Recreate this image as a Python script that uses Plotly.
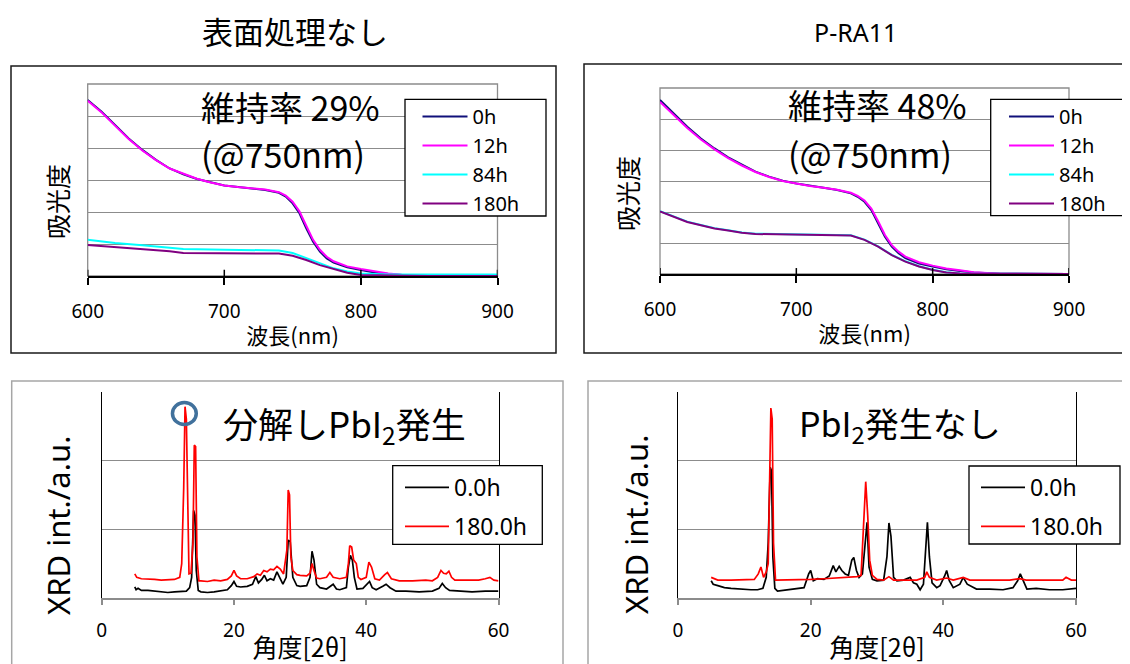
import plotly.graph_objects as go

# ---------------- data: absorbance (top panels) ----------------
wl_main = [600, 610, 620, 630, 640, 650, 660, 670, 680, 690, 700, 710, 720, 730, 740,
           745, 750, 755, 760, 765, 770, 775, 780, 790, 800, 810, 820, 830, 850, 900]
untreated_0h = [5.50, 5.14, 4.72, 4.30, 3.94, 3.63, 3.36, 3.18, 3.03, 2.92, 2.83, 2.78, 2.74, 2.69, 2.60,
                2.48, 2.27, 1.96, 1.49, 1.07, 0.76, 0.55, 0.42, 0.27, 0.19, 0.11, 0.06, 0.03, 0.00, 0.00]
untreated_12h = [5.48, 5.12, 4.70, 4.28, 3.92, 3.62, 3.36, 3.19, 3.04, 2.92, 2.83, 2.78, 2.74, 2.70, 2.62,
                 2.51, 2.32, 2.02, 1.57, 1.13, 0.82, 0.60, 0.46, 0.30, 0.22, 0.14, 0.08, 0.04, 0.00, 0.00]

wl_deg_a = [600, 610, 620, 640, 650, 660, 670, 700, 720, 740, 750, 760, 770, 780, 790, 800, 820, 850, 900]
untreated_84h = [1.13, 1.08, 1.03, 0.96, 0.92, 0.88, 0.84, 0.82, 0.81, 0.80, 0.72, 0.56, 0.38, 0.24, 0.14,
                 0.08, 0.05, 0.05, 0.05]
untreated_180h = [0.97, 0.94, 0.90, 0.83, 0.80, 0.77, 0.72, 0.71, 0.71, 0.70, 0.63, 0.50, 0.34, 0.21, 0.10,
                  0.03, 0.01, 0.00, 0.00]

pra11_0h = [5.61, 5.18, 4.75, 4.37, 4.05, 3.76, 3.52, 3.30, 3.14, 3.01, 2.92, 2.84, 2.78, 2.71, 2.60,
            2.49, 2.33, 2.06, 1.63, 1.20, 0.88, 0.67, 0.51, 0.34, 0.24, 0.15, 0.10, 0.05, 0.01, 0.00]
pra11_12h = [5.55, 5.13, 4.71, 4.34, 4.02, 3.74, 3.50, 3.29, 3.13, 3.00, 2.91, 2.84, 2.78, 2.72, 2.62,
             2.52, 2.37, 2.11, 1.70, 1.26, 0.93, 0.72, 0.56, 0.38, 0.27, 0.18, 0.12, 0.06, 0.01, 0.00]

wl_deg_b = [600, 610, 620, 630, 640, 650, 660, 670, 700, 730, 740, 750, 760, 770, 780, 790, 800, 810, 820, 900]
pra11_84h = [2.03, 1.85, 1.69, 1.58, 1.48, 1.41, 1.34, 1.30, 1.28, 1.28, 1.25, 1.11, 0.89, 0.62, 0.41,
             0.25, 0.14, 0.06, 0.02, 0.00]
pra11_180h = [2.02, 1.84, 1.68, 1.57, 1.47, 1.40, 1.33, 1.29, 1.27, 1.27, 1.24, 1.10, 0.88, 0.61, 0.40,
              0.24, 0.13, 0.05, 0.02, 0.00]

uv_names = ["0h", "12h", "84h", "180h"]
wl_ticks = [600, 700, 800, 900]

# ---------------- data: XRD (bottom panels) ----------------
bl_red_ang = [5.0, 5.3, 6.0, 7.0, 8.0, 9.0, 10.0, 11.0, 11.8, 12.1,
              12.4, 12.6, 12.8, 13.0, 13.2, 13.5, 13.8, 14.0, 14.2, 14.4,
              14.7, 15.0, 16.0, 17.0, 18.0, 19.0, 19.6, 20.0, 20.4, 21.0,
              22.0, 23.0, 23.5, 24.0, 24.5, 25.0, 25.5, 26.0, 26.5, 27.0,
              27.5, 28.0, 28.2, 28.4, 28.6, 28.9, 29.5, 30.0, 31.0, 31.5,
              31.8, 32.1, 32.5, 33.0, 34.0, 34.5, 35.0, 36.0, 37.0, 37.3,
              37.5, 37.8, 38.1, 38.5, 38.8, 39.2, 40.0, 40.4, 40.8, 41.3,
              42.0, 42.8, 43.2, 43.8, 45.0, 47.0, 49.0, 50.0, 50.8, 51.3,
              51.7, 52.1, 52.5, 52.9, 53.4, 55.0, 57.0, 58.0, 58.7, 59.3, 60.0]
bl_red_int = [0.35, 0.30, 0.28, 0.28, 0.27, 0.26, 0.26, 0.27, 0.30, 0.50,
              1.60, 2.78, 2.60, 1.20, 0.35, 0.36, 0.80, 2.22, 2.20, 0.60,
              0.25, 0.25, 0.24, 0.26, 0.25, 0.27, 0.32, 0.40, 0.32, 0.28,
              0.28, 0.31, 0.35, 0.33, 0.40, 0.38, 0.42, 0.41, 0.46, 0.42,
              0.35, 0.70, 1.57, 1.50, 0.60, 0.40, 0.34, 0.33, 0.32, 0.36,
              0.50, 0.40, 0.29, 0.28, 0.30, 0.37, 0.30, 0.28, 0.30, 0.50,
              0.76, 0.74, 0.55, 0.50, 0.30, 0.27, 0.30, 0.52, 0.45, 0.28,
              0.26, 0.34, 0.37, 0.28, 0.25, 0.25, 0.26, 0.25, 0.30, 0.40,
              0.36, 0.35, 0.39, 0.30, 0.26, 0.26, 0.26, 0.28, 0.30, 0.26, 0.25]

bl_blk_ang = [5.0, 5.2, 5.5, 6.0, 7.0, 8.0, 9.0, 10.0, 11.0, 12.0,
              12.8, 13.3, 13.6, 13.9, 14.1, 14.3, 14.6, 15.0, 16.0, 17.0,
              18.0, 19.0, 19.6, 20.0, 20.4, 21.0, 22.0, 22.8, 23.3, 23.7,
              24.2, 24.6, 25.0, 25.5, 26.0, 26.5, 26.9, 27.4, 27.9, 28.2,
              28.5, 28.9, 29.5, 30.0, 31.0, 31.5, 31.8, 32.1, 32.5, 33.0,
              34.0, 35.0, 35.5, 36.0, 37.0, 37.3, 37.6, 37.9, 38.2, 38.6,
              39.5, 40.2, 40.5, 40.9, 41.5, 42.5, 43.0, 43.6, 44.5, 46.0,
              48.0, 50.0, 51.0, 51.5, 52.0, 52.6, 54.0, 56.0, 58.0, 60.0]
bl_blk_int = [0.16, 0.12, 0.14, 0.11, 0.11, 0.10, 0.08, 0.08, 0.09, 0.09,
              0.10, 0.15, 0.30, 1.27, 1.20, 0.40, 0.11, 0.09, 0.08, 0.09,
              0.10, 0.12, 0.18, 0.24, 0.17, 0.16, 0.17, 0.20, 0.31, 0.22,
              0.27, 0.33, 0.25, 0.28, 0.26, 0.38, 0.30, 0.20, 0.30, 0.84,
              0.82, 0.30, 0.18, 0.17, 0.18, 0.30, 0.68, 0.55, 0.20, 0.15,
              0.13, 0.20, 0.13, 0.12, 0.15, 0.45, 0.62, 0.55, 0.30, 0.13,
              0.14, 0.20, 0.24, 0.15, 0.12, 0.17, 0.20, 0.15, 0.10, 0.10,
              0.09, 0.10, 0.14, 0.21, 0.15, 0.11, 0.10, 0.09, 0.10, 0.10]

br_red_ang = [5.0, 5.5, 6.0, 8.0, 10.0, 11.5, 12.1, 12.5, 12.9, 13.3,
              13.6, 13.8, 14.0, 14.2, 14.4, 14.7, 16.0, 18.0, 20.0, 22.0,
              24.0, 26.0, 27.0, 27.6, 28.0, 28.3, 28.6, 28.9, 29.3, 30.0,
              31.0, 31.8, 32.5, 34.0, 36.0, 37.2, 37.5, 37.9, 39.0, 40.5,
              41.5, 43.0, 44.0, 46.0, 50.0, 51.5, 52.5, 55.0, 58.0, 58.5, 59.3, 60.0]
br_red_int = [0.30, 0.28, 0.26, 0.26, 0.26, 0.27, 0.35, 0.45, 0.30, 0.38,
              0.50, 2.00, 2.76, 2.60, 0.80, 0.26, 0.26, 0.26, 0.27, 0.28,
              0.29, 0.30, 0.31, 0.33, 1.00, 1.69, 1.20, 0.55, 0.33, 0.27,
              0.26, 0.31, 0.26, 0.26, 0.26, 0.30, 0.38, 0.30, 0.26, 0.29,
              0.26, 0.30, 0.26, 0.26, 0.26, 0.28, 0.26, 0.26, 0.26, 0.30, 0.26, 0.26]

br_blk_ang = [5.0, 5.3, 6.0, 7.0, 8.0, 9.0, 10.0, 11.0, 12.0, 12.8,
              13.3, 13.6, 13.9, 14.1, 14.3, 14.6, 15.0, 16.0, 17.0, 18.0,
              19.0, 19.7, 20.0, 20.4, 21.0, 22.0, 22.8, 23.4, 23.8, 24.3,
              24.7, 25.2, 25.7, 26.2, 26.5, 26.9, 27.3, 27.8, 28.2, 28.5,
              28.8, 29.3, 30.0, 31.0, 31.5, 31.8, 32.1, 32.5, 33.0, 34.0,
              35.0, 35.5, 36.0, 36.5, 37.0, 37.3, 37.6, 37.9, 38.3, 39.0,
              39.5, 40.2, 40.5, 40.9, 41.5, 42.5, 43.0, 43.6, 45.0, 47.0,
              49.0, 50.5, 51.2, 51.6, 52.0, 52.6, 54.0, 56.0, 58.0, 60.0]
br_blk_int = [0.25, 0.20, 0.18, 0.15, 0.14, 0.13, 0.12, 0.12, 0.12, 0.14,
              0.30, 0.80, 1.90, 1.85, 0.60, 0.14, 0.10, 0.11, 0.12, 0.13,
              0.15, 0.35, 0.40, 0.25, 0.28, 0.27, 0.32, 0.47, 0.38, 0.46,
              0.40, 0.35, 0.33, 0.55, 0.59, 0.40, 0.30, 0.35, 0.80, 1.10,
              0.45, 0.27, 0.25, 0.26, 0.60, 1.09, 0.90, 0.30, 0.25, 0.26,
              0.30, 0.22, 0.20, 0.12, 0.20, 0.70, 1.10, 0.60, 0.22, 0.15,
              0.18, 0.32, 0.40, 0.25, 0.15, 0.20, 0.30, 0.20, 0.13, 0.13,
              0.12, 0.15, 0.25, 0.35, 0.25, 0.13, 0.14, 0.12, 0.12, 0.14]

xrd_names = ["0.0h", "180.0h"]
ang_ticks = [0, 20, 40, 60]

# ---------------- styling ----------------
# The page body adds an 8 px margin, so the figure is 8 px smaller on each axis
# and all screen positions are measured from that offset.
OFF = 8
W, H = 1130 - OFF, 664 - OFF
def px(x):
    return (x - OFF) / W
def py(y):
    return 1 - (y - OFF) / H

JP = "Noto Sans CJK JP"
LAT = "Noto Sans, Noto Sans CJK JP"
UV_COLORS = ["#10107a", "#ff00ff", "#00ffff", "#800080"]
XRD_COLORS = ["#000000", "#ff0000"]
GRID = "#8c8c8c"

fig = go.Figure()

for name, xs, ys, col, g in zip(uv_names, [wl_main, wl_main, wl_deg_a, wl_deg_a],
                                [untreated_0h, untreated_12h, untreated_84h, untreated_180h],
                                UV_COLORS, range(4)):
    fig.add_trace(go.Scatter(x=xs, y=ys, name=name, mode="lines", line=dict(color=col, width=2),
                             xaxis="x", yaxis="y", legend="legend", legendgroup=f"tl{g}"))
for name, xs, ys, col, g in zip(uv_names, [wl_main, wl_main, wl_deg_b, wl_deg_b],
                                [pra11_0h, pra11_12h, pra11_84h, pra11_180h],
                                UV_COLORS, range(4)):
    fig.add_trace(go.Scatter(x=xs, y=ys, name=name, mode="lines", line=dict(color=col, width=2),
                             xaxis="x2", yaxis="y2", legend="legend2", legendgroup=f"tr{g}"))
for name, xs, ys, col, g in zip(xrd_names, [bl_blk_ang, bl_red_ang], [bl_blk_int, bl_red_int],
                                XRD_COLORS, range(2)):
    fig.add_trace(go.Scatter(x=xs, y=ys, name=name, mode="lines", line=dict(color=col, width=1.7),
                             xaxis="x3", yaxis="y3", legend="legend3", legendgroup=f"bl{g}"))
for name, xs, ys, col, g in zip(xrd_names, [br_blk_ang, br_red_ang], [br_blk_int, br_red_int],
                                XRD_COLORS, range(2)):
    fig.add_trace(go.Scatter(x=xs, y=ys, name=name, mode="lines", line=dict(color=col, width=1.7),
                             xaxis="x4", yaxis="y4", legend="legend4", legendgroup=f"br{g}"))

def uv_x(dom, anchor):
    return dict(domain=dom, anchor=anchor, range=[600, 900], tickvals=wl_ticks,
                ticks="outside", ticklen=7, tickwidth=1.5, tickcolor="black",
                showline=True, linecolor="black", linewidth=2, showgrid=False, zeroline=False,
                tickfont=dict(family=LAT, size=19, color="black"), ticklabelstandoff=10,
                title=dict(text="波長(nm)", font=dict(family=JP, size=22, color="black"), standoff=6),
                automargin=False, fixedrange=True)

def uv_y(dom, anchor):
    return dict(domain=dom, anchor=anchor, range=[0, 6], dtick=1, showgrid=True,
                gridcolor=GRID, gridwidth=1.3, showticklabels=False, ticks="",
                showline=False, zeroline=False, automargin=False, fixedrange=True)

def xrd_x(dom, anchor):
    return dict(domain=dom, anchor=anchor, range=[0, 60], tickvals=ang_ticks,
                ticks="outside", ticklen=5, tickwidth=1.5, tickcolor="#8c8c8c",
                showline=True, linecolor="#8c8c8c", linewidth=2, showgrid=False, zeroline=False,
                tickfont=dict(family=LAT, size=19, color="black"), ticklabelstandoff=9,
                title=dict(text="角度[2θ]", font=dict(family=JP, size=25, color="black"), standoff=5),
                automargin=False, fixedrange=True)

def xrd_y(dom, anchor):
    return dict(domain=dom, anchor=anchor, range=[0, 3], dtick=1, showgrid=True,
                gridcolor=GRID, gridwidth=1.3, showticklabels=False, ticks="",
                showline=True, linecolor="black", linewidth=1.3, mirror=True,
                zeroline=False, automargin=False, fixedrange=True)

def legend_at(x, y, size, gap, iw):
    return dict(x=px(x), y=py(y), xref="container", yref="container",
                xanchor="left", yanchor="top", bgcolor="rgba(0,0,0,0)",
                borderwidth=0, font=dict(family=LAT, size=size, color="black"),
                itemwidth=iw, tracegroupgap=gap, itemclick=False, itemdoubleclick=False)

fig.update_layout(
    width=W, height=H, margin=dict(l=0, r=0, t=0, b=0, autoexpand=False),
    paper_bgcolor="white", plot_bgcolor="white", showlegend=True,
    xaxis=uv_x([px(87.7), px(497.5)], "y"),
    yaxis=uv_y([py(276), py(84)], "x"),
    xaxis2=uv_x([px(660), px(1069)], "y2"),
    yaxis2=uv_y([py(274), py(88)], "x2"),
    xaxis3=xrd_x([px(101.7), px(498.5)], "y3"),
    yaxis3=xrd_y([py(598), py(391.5)], "x3"),
    xaxis4=xrd_x([px(678), px(1076)], "y4"),
    yaxis4=xrd_y([py(598), py(391.5)], "x4"),
    legend=legend_at(417.5, 97, 20, 0, 45),
    legend2=legend_at(1004, 97, 20, 0, 45),
    legend3=legend_at(400, 466, 23, 6, 44),
    legend4=legend_at(976, 466, 23, 6, 44),
)

shapes = []
shapes.append(dict(type="rect", xref="paper", yref="paper", x0=px(11), x1=px(556), y0=py(353), y1=py(66),
                   line=dict(color="#1a1a1a", width=1.5), layer="below"))
shapes.append(dict(type="rect", xref="paper", yref="paper", x0=px(584), x1=px(1140), y0=py(353), y1=py(64),
                   line=dict(color="#1a1a1a", width=1.5), layer="below"))
shapes.append(dict(type="rect", xref="paper", yref="paper", x0=px(11.7), x1=px(563), y0=py(680), y1=py(381),
                   line=dict(color="#a6a6a6", width=1.5), layer="below"))
shapes.append(dict(type="rect", xref="paper", yref="paper", x0=px(588), x1=px(1140), y0=py(680), y1=py(381),
                   line=dict(color="#a6a6a6", width=1.5), layer="below"))
for xr, yr in [("x", "y"), ("x2", "y2")]:
    shapes.append(dict(type="rect", xref=f"{xr} domain", yref=f"{yr} domain", x0=0, x1=1, y0=0, y1=1,
                       line=dict(color=GRID, width=1.3), layer="below"))
    # upper half of the cross-shaped tick marks on the wavelength axis
    for t in wl_ticks:
        shapes.append(dict(type="line", xref=xr, yref=f"{yr} domain", x0=t, x1=t, y0=0, y1=0.032,
                           line=dict(color="black", width=1.5), layer="above"))
for x0, x1, y0, y1 in [(405, 546, 99.3, 216), (990.7, 1126, 99.3, 215.7),
                       (392.7, 542.3, 465.7, 544.3), (969, 1120, 466, 544)]:
    shapes.append(dict(type="rect", xref="paper", yref="paper", x0=px(x0), x1=px(x1), y0=py(y1), y1=py(y0),
                       line=dict(color="black", width=1.3), fillcolor="white", layer="above"))
shapes.append(dict(type="circle", xref="x3", yref="y3", x0=10.7, x1=14.3, y0=2.52, y1=2.84,
                   line=dict(color="#41719c", width=3.5), layer="above"))
fig.update_layout(shapes=shapes)

def note(text, x, y, size, family=JP, xanchor="center", angle=0):
    return dict(text=text, x=px(x), y=py(y), xref="paper", yref="paper", showarrow=False,
                xanchor=xanchor, yanchor="middle", textangle=angle,
                font=dict(family=family, size=size, color="black"))

ann = [
    note("表面処理なし", 295, 30, 31),
    note("P-RA11", 855, 32, 25, family=LAT),
    note("維持率 29%", 199, 106, 34, xanchor="left"),
    note("(@750nm)", 199, 153, 34, xanchor="left"),
    note("維持率 48%", 786, 105, 34, xanchor="left"),
    note("(@750nm)", 786, 153, 34, xanchor="left"),
    note("分解しPbI<sub>2</sub>発生", 221, 424, 35, xanchor="left"),
    note("PbI<sub>2</sub>発生なし", 797, 424, 34, xanchor="left"),
    note("吸光度", 57, 202, 25, angle=-90),
    note("吸光度", 627, 193, 25, angle=-90),
    note("XRD int./a.u.", 58, 525, 31, family=LAT, angle=-90),
    note("XRD int./a.u.", 636, 524, 31, family=LAT, angle=-90),
]
fig.update_layout(annotations=ann)

fig.write_html("out.html")
